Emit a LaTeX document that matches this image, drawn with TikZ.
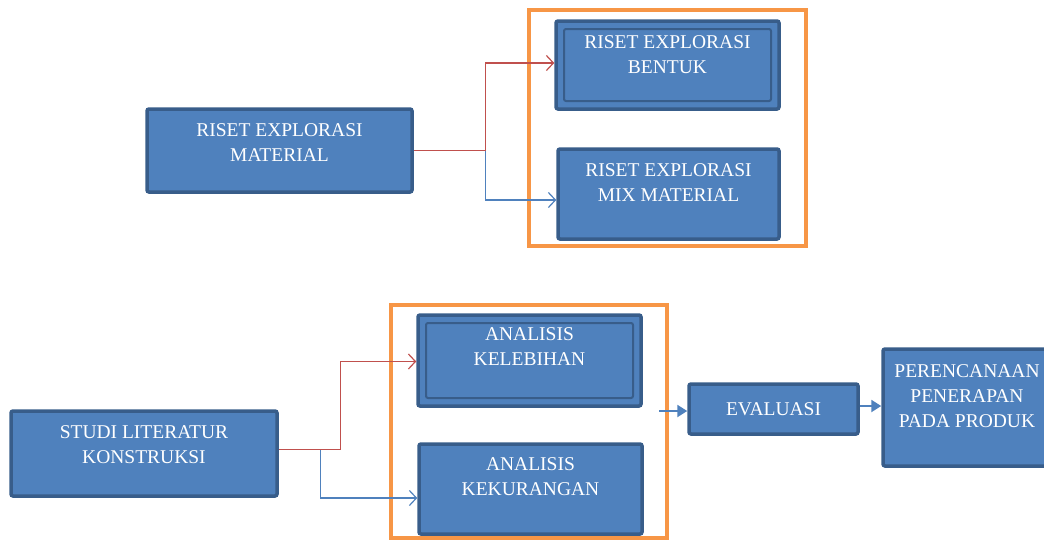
\documentclass[tikz,border=0pt]{standalone}
\usepackage{fontspec}
\setmainfont{Liberation Serif}
\usepackage{tikz}
\usetikzlibrary{arrows.meta}
\definecolor{biru}{HTML}{4F81BD}
\definecolor{birugelap}{HTML}{385D8A}
\definecolor{oranye}{HTML}{F79646}
\definecolor{merah}{HTML}{C0504D}
\tikzstyle{kotak}=[rectangle, draw=birugelap, fill=biru, line width=3.5pt, rounded corners=2pt, inner sep=0pt]
\tikzstyle{kotakganda}=[kotak, path picture={\draw[birugelap, line width=2pt] ([shift={(8pt,-8pt)}]path picture bounding box.north west) rectangle ([shift={(-8pt,8pt)}]path picture bounding box.south east);}]
\tikzstyle{bingkai}=[rectangle, draw=oranye, line width=4pt, inner sep=0pt]
\tikzstyle{tulisan}=[text=white, font=\fontsize{19.5pt}{25pt}\selectfont, align=center, inner sep=0pt]
\tikzstyle{panahmerah}=[draw=merah, line width=1.2pt, -{Straight Barb[length=7pt, width=15pt]}]
\tikzstyle{panahbiru}=[draw=biru, line width=1.2pt, -{Straight Barb[length=7pt, width=15pt]}]
\tikzstyle{panahtebal}=[draw=biru, line width=2.2pt, -{Triangle[length=10pt, width=12pt]}]

\begin{document}
\begin{tikzpicture}[x=1pt, y=-1pt]
	\clip (0,0) rectangle (1044,541);
	% bagian atas
	\node[kotak, minimum width=265pt, minimum height=83pt, label={[tulisan, anchor=north, yshift=-16pt]north:{RISET EXPLORASI\\MATERIAL}}] (material) at (279.5,150.5) {};
	\node[bingkai, minimum width=277pt, minimum height=236pt] (bingkaiatas) at (667.5,128) {};
	\node[kotakganda, minimum width=223pt, minimum height=88pt, label={[tulisan, anchor=north, yshift=-16pt]north:{RISET EXPLORASI\\BENTUK}}] (bentuk) at (667.5,65) {};
	\node[kotak, minimum width=221pt, minimum height=90pt, label={[tulisan, anchor=north, yshift=-16pt]north:{RISET EXPLORASI\\MIX MATERIAL}}] (mix) at (668.5,194) {};
	\path[panahbiru] (material.east) -- ++(72,0) |- ([yshift=-6pt]mix.west);
	\path[panahmerah] (material.east) -- ++(72,0) |- ([yshift=2pt]bentuk.west);
	% bagian bawah
	\node[kotak, minimum width=266pt, minimum height=85pt, label={[tulisan, anchor=north, yshift=-16pt]north:{STUDI LITERATUR\\KONSTRUKSI}}] (studi) at (144,453.5) {};
	\node[bingkai, minimum width=276pt, minimum height=233pt] (bingkaibawah) at (529,421.5) {};
	\node[kotakganda, minimum width=223pt, minimum height=91pt, label={[tulisan, anchor=north, yshift=-14pt]north:{ANALISIS\\KELEBIHAN}}] (kelebihan) at (529.5,360.5) {};
	\node[kotak, minimum width=223pt, minimum height=90pt, label={[tulisan, anchor=north, yshift=-15pt]north:{ANALISIS\\KEKURANGAN}}] (kekurangan) at (530.5,489) {};
	\node[kotak, tulisan, minimum width=169pt, minimum height=50pt] (evaluasi) at (773.5,409) {EVALUASI};
	\node[kotak, minimum width=168pt, minimum height=117pt, label={[tulisan, anchor=north, yshift=-17pt]north:{PERENCANAAN\\PENERAPAN\\PADA PRODUK}}] (rencana) at (967,407.5) {};
	\path[panahbiru] ([yshift=4pt]studi.east) -- ++(42,0) |- ([yshift=-9pt]kekurangan.west);
	\path[panahmerah] ([yshift=4pt]studi.east) -- ++(62,0) |- ([yshift=-1pt]kelebihan.west);
	\path[panahtebal] ([xshift=-10pt,yshift=-2pt]bingkaibawah.east |- evaluasi.west) -- ([yshift=-2pt]evaluasi.west);
	\path[panahtebal] ([yshift=3pt]evaluasi.east) -- ([yshift=3pt]evaluasi.east -| rencana.west);
\end{tikzpicture}
\end{document}
